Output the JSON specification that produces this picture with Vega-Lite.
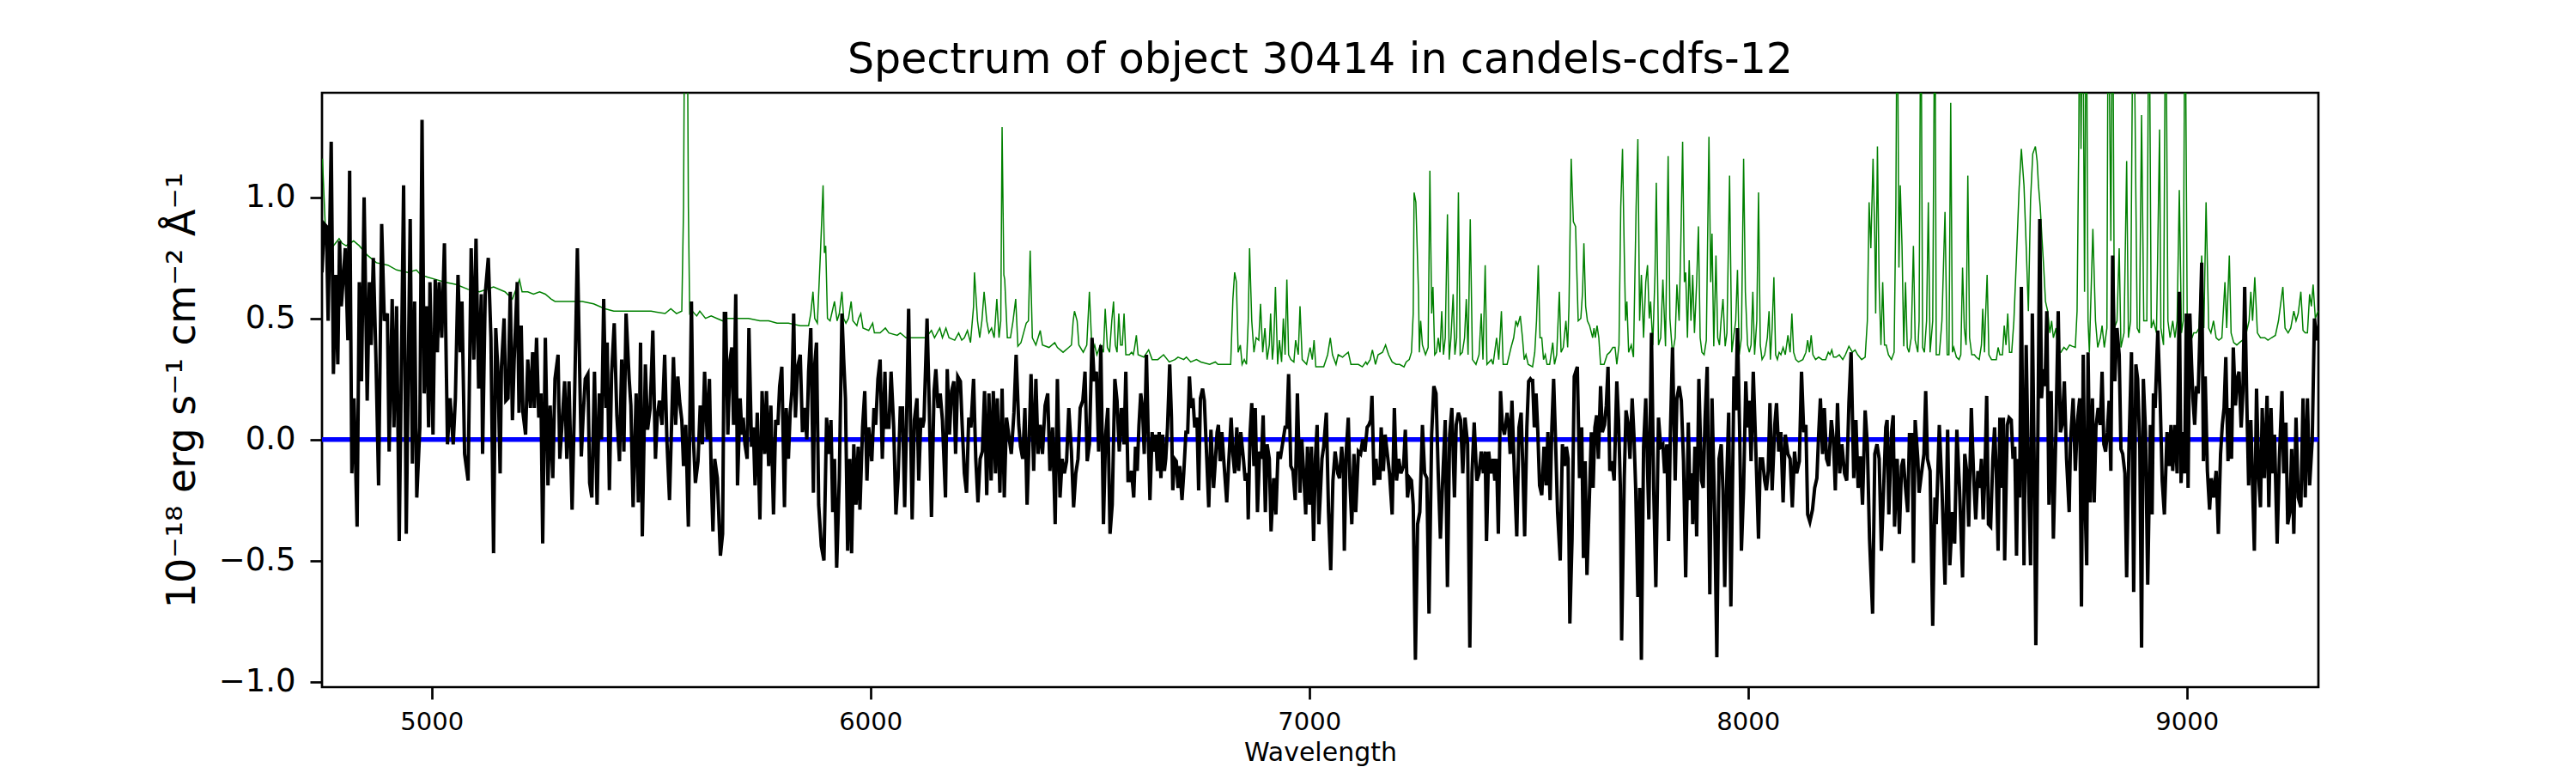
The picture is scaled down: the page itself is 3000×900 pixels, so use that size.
{
  "$schema": "https://vega.github.io/schema/vega-lite/v6.json",
  "autosize": {"type": "none"},
  "width": 2325,
  "height": 692,
  "padding": {"left": 375, "top": 108, "right": 300, "bottom": 100},
  "background": "white",
  "title": {
    "text": "Spectrum of object 30414 in candels-cdfs-12",
    "font": "DejaVu Sans",
    "fontSize": 49,
    "fontWeight": "normal",
    "color": "black",
    "anchor": "middle",
    "offset": 13
  },
  "datasets": {
    "zero": [{"v": 0}],
    "err": [
      {"w":4751,"v":1.16},{"w":4757,"v":0.90},{"w":4760,"v":0.82},{"w":4776,"v":0.80},{"w":4789,"v":0.83},{"w":4796,"v":0.81},{"w":4805,"v":0.80},{"w":4822,"v":0.82},{"w":4835,"v":0.80},{"w":4854,"v":0.76},{"w":4874,"v":0.73},{"w":4900,"v":0.72},{"w":4920,"v":0.70},{"w":4946,"v":0.69},{"w":4965,"v":0.70},{"w":4975,"v":0.68},{"w":4991,"v":0.67},{"w":5011,"v":0.66},{"w":5030,"v":0.65},{"w":5056,"v":0.64},{"w":5083,"v":0.62},{"w":5109,"v":0.61},{"w":5141,"v":0.63},{"w":5167,"v":0.61},{"w":5184,"v":0.58},{"w":5200,"v":0.66},{"w":5206,"v":0.61},{"w":5219,"v":0.61},{"w":5232,"v":0.60},{"w":5246,"v":0.61},{"w":5259,"v":0.60},{"w":5272,"v":0.58},{"w":5281,"v":0.57},{"w":5298,"v":0.57},{"w":5324,"v":0.57},{"w":5343,"v":0.57},{"w":5369,"v":0.56},{"w":5395,"v":0.54},{"w":5415,"v":0.53},{"w":5441,"v":0.53},{"w":5467,"v":0.53},{"w":5500,"v":0.53},{"w":5532,"v":0.52},{"w":5545,"v":0.54},{"w":5558,"v":0.52},{"w":5570,"v":0.53},{"w":5574,"v":0.96},{"w":5577,"v":2.0},{"w":5582,"v":2.0},{"w":5585,"v":0.96},{"w":5588,"v":0.52},{"w":5594,"v":0.53},{"w":5604,"v":0.51},{"w":5611,"v":0.53},{"w":5624,"v":0.50},{"w":5637,"v":0.51},{"w":5650,"v":0.50},{"w":5663,"v":0.49},
      {"w":5670,"v":0.50},{"w":5696,"v":0.50},{"w":5722,"v":0.50},{"w":5748,"v":0.49},{"w":5768,"v":0.49},{"w":5787,"v":0.48},{"w":5813,"v":0.48},{"w":5840,"v":0.47},{"w":5859,"v":0.47},{"w":5864,"v":0.52},{"w":5869,"v":0.61},{"w":5873,"v":0.50},{"w":5879,"v":0.48},{"w":5886,"v":0.77},{"w":5892,"v":1.05},{"w":5895,"v":0.77},{"w":5898,"v":0.80},{"w":5902,"v":0.50},{"w":5908,"v":0.49},{"w":5918,"v":0.57},{"w":5924,"v":0.49},{"w":5929,"v":0.52},{"w":5935,"v":0.61},{"w":5939,"v":0.50},{"w":5944,"v":0.48},{"w":5950,"v":0.50},{"w":5956,"v":0.57},{"w":5960,"v":0.49},{"w":5969,"v":0.47},{"w":5973,"v":0.50},{"w":5978,"v":0.52},{"w":5983,"v":0.46},{"w":5996,"v":0.45},{"w":6005,"v":0.48},{"w":6009,"v":0.44},{"w":6022,"v":0.44},{"w":6034,"v":0.46},{"w":6042,"v":0.44},{"w":6061,"v":0.43},{"w":6068,"v":0.44},{"w":6081,"v":0.42},{"w":6100,"v":0.42},{"w":6120,"v":0.42},{"w":6126,"v":0.42},{"w":6139,"v":0.45},{"w":6146,"v":0.42},{"w":6158,"v":0.46},{"w":6164,"v":0.42},{"w":6172,"v":0.46},{"w":6179,"v":0.42},{"w":6192,"v":0.41},{"w":6201,"v":0.44},{"w":6208,"v":0.41},{"w":6214,"v":0.42},{"w":6221,"v":0.45},{"w":6228,"v":0.40},{"w":6235,"v":0.55},{"w":6237,"v":0.69},{"w":6244,"v":0.49},{"w":6249,"v":0.42},{"w":6254,"v":0.49},{"w":6259,"v":0.61},{"w":6265,"v":0.49},{"w":6270,"v":0.44},{"w":6276,"v":0.46},{"w":6282,"v":0.42},{"w":6288,"v":0.58},{"w":6293,"v":0.42},{"w":6297,"v":0.49},{"w":6300,"v":1.29},{"w":6304,"v":0.68},{"w":6306,"v":0.66},{"w":6312,"v":0.42},{"w":6319,"v":0.42},{"w":6325,"v":0.49},{"w":6331,"v":0.58},{"w":6336,"v":0.385},{"w":6343,"v":0.40},{"w":6349,"v":0.44},{"w":6355,"v":0.48},{"w":6360,"v":0.49},{"w":6364,"v":0.78},{"w":6369,"v":0.42},{"w":6377,"v":0.39},{"w":6387,"v":0.45},{"w":6392,"v":0.39},{"w":6407,"v":0.38},{"w":6420,"v":0.40},{"w":6426,"v":0.38},{"w":6439,"v":0.36},{"w":6452,"v":0.38},{"w":6458,"v":0.39},{"w":6462,"v":0.49},{"w":6465,"v":0.53},{"w":6471,"v":0.49},{"w":6475,"v":0.39},{"w":6485,"v":0.36},{"w":6493,"v":0.39},{"w":6499,"v":0.61},{"w":6505,"v":0.36},{"w":6511,"v":0.39},{"w":6516,"v":0.35},{"w":6524,"v":0.39},{"w":6531,"v":0.36},{"w":6535,"v":0.54},{"w":6540,"v":0.38},{"w":6545,"v":0.36},{"w":6550,"v":0.49},{"w":6554,"v":0.57},{"w":6558,"v":0.39},{"w":6562,"v":0.36},{"w":6566,"v":0.52},{"w":6570,"v":0.39},{"w":6574,"v":0.39},{"w":6578,"v":0.52},{"w":6582,"v":0.35},{"w":6588,"v":0.35},
      {"w":6590,"v":0.35},{"w":6595,"v":0.36},{"w":6599,"v":0.35},{"w":6602,"v":0.38},{"w":6606,"v":0.43},{"w":6610,"v":0.35},{"w":6623,"v":0.34},{"w":6634,"v":0.37},{"w":6642,"v":0.33},{"w":6655,"v":0.33},{"w":6668,"v":0.35},{"w":6681,"v":0.32},{"w":6694,"v":0.33},{"w":6701,"v":0.34},{"w":6714,"v":0.33},{"w":6720,"v":0.34},{"w":6730,"v":0.32},{"w":6743,"v":0.33},{"w":6753,"v":0.32},{"w":6773,"v":0.31},{"w":6786,"v":0.32},{"w":6792,"v":0.31},{"w":6821,"v":0.31},{"w":6826,"v":0.58},{"w":6830,"v":0.69},{"w":6834,"v":0.65},{"w":6838,"v":0.36},{"w":6843,"v":0.39},{"w":6847,"v":0.31},{"w":6852,"v":0.33},{"w":6857,"v":0.31},{"w":6861,"v":0.49},{"w":6864,"v":0.79},{"w":6869,"v":0.49},{"w":6874,"v":0.36},{"w":6879,"v":0.42},{"w":6885,"v":0.41},{"w":6889,"v":0.56},{"w":6894,"v":0.36},{"w":6899,"v":0.46},{"w":6904,"v":0.33},{"w":6909,"v":0.39},{"w":6912,"v":0.52},{"w":6916,"v":0.33},{"w":6919,"v":0.39},{"w":6923,"v":0.63},{"w":6928,"v":0.31},{"w":6932,"v":0.41},{"w":6937,"v":0.32},{"w":6941,"v":0.50},{"w":6945,"v":0.35},{"w":6949,"v":0.66},{"w":6953,"v":0.35},{"w":6958,"v":0.33},{"w":6965,"v":0.32},{"w":6969,"v":0.41},{"w":6975,"v":0.35},{"w":6979,"v":0.55},{"w":6984,"v":0.33},{"w":6994,"v":0.31},{"w":7002,"v":0.38},{"w":7007,"v":0.33},{"w":7011,"v":0.41},{"w":7015,"v":0.30},{"w":7033,"v":0.30},{"w":7042,"v":0.35},{"w":7048,"v":0.42},{"w":7053,"v":0.35},{"w":7061,"v":0.31},{"w":7066,"v":0.35},{"w":7076,"v":0.34},{"w":7082,"v":0.35},{"w":7089,"v":0.36},{"w":7095,"v":0.31},{"w":7112,"v":0.31},{"w":7121,"v":0.30},{"w":7129,"v":0.32},{"w":7132,"v":0.31},{"w":7139,"v":0.33},{"w":7144,"v":0.37},{"w":7151,"v":0.31},{"w":7157,"v":0.35},{"w":7167,"v":0.36},{"w":7174,"v":0.39},{"w":7181,"v":0.35},{"w":7189,"v":0.32},{"w":7198,"v":0.31},{"w":7206,"v":0.31},{"w":7216,"v":0.30},{"w":7221,"v":0.32},{"w":7228,"v":0.33},{"w":7233,"v":0.36},{"w":7237,"v":0.52},{"w":7239,"v":1.02},{"w":7243,"v":0.98},{"w":7249,"v":0.61},{"w":7251,"v":0.36},{"w":7254,"v":0.49},{"w":7258,"v":0.39},{"w":7265,"v":0.35},{"w":7271,"v":0.38},{"w":7275,"v":1.11},{"w":7279,"v":0.52},{"w":7282,"v":0.63},{"w":7286,"v":0.35},{"w":7290,"v":0.36},{"w":7294,"v":0.42},{"w":7298,"v":0.36},{"w":7302,"v":0.53},{"w":7306,"v":0.35},{"w":7310,"v":0.42},{"w":7315,"v":0.93},{"w":7319,"v":0.33},{"w":7323,"v":0.42},{"w":7328,"v":0.60},{"w":7332,"v":0.35},{"w":7336,"v":0.42},{"w":7340,"v":1.02},{"w":7344,"v":0.35},{"w":7349,"v":0.36},{"w":7354,"v":0.42},{"w":7358,"v":0.58},{"w":7362,"v":0.35},{"w":7367,"v":0.91},{"w":7372,"v":0.33},{"w":7380,"v":0.31},{"w":7387,"v":0.35},{"w":7392,"v":0.52},{"w":7396,"v":0.33},{"w":7401,"v":0.72},{"w":7405,"v":0.31},{"w":7415,"v":0.33},{"w":7419,"v":0.31},{"w":7427,"v":0.42},{"w":7432,"v":0.33},{"w":7438,"v":0.53},{"w":7442,"v":0.31},{"w":7451,"v":0.31},{"w":7460,"v":0.38},{"w":7466,"v":0.42},{"w":7471,"v":0.49},{"w":7475,"v":0.47},{"w":7481,"v":0.51},{"w":7486,"v":0.42},{"w":7490,"v":0.33},{"w":7494,"v":0.35},{"w":7499,"v":0.31},{"w":7509,"v":0.30},
      {"w":7514,"v":0.36},{"w":7518,"v":0.49},{"w":7522,"v":0.72},{"w":7526,"v":0.42},{"w":7530,"v":0.42},{"w":7534,"v":0.33},{"w":7538,"v":0.35},{"w":7542,"v":0.31},{"w":7548,"v":0.31},{"w":7555,"v":0.40},{"w":7559,"v":0.31},{"w":7564,"v":0.35},{"w":7570,"v":0.61},{"w":7574,"v":0.36},{"w":7579,"v":0.38},{"w":7585,"v":0.49},{"w":7589,"v":0.38},{"w":7592,"v":0.55},{"w":7597,"v":1.16},{"w":7602,"v":0.90},{"w":7607,"v":0.88},{"w":7613,"v":0.49},{"w":7619,"v":0.50},{"w":7623,"v":0.61},{"w":7626,"v":0.81},{"w":7630,"v":0.55},{"w":7634,"v":0.49},{"w":7639,"v":0.47},{"w":7646,"v":0.42},{"w":7649,"v":0.46},{"w":7652,"v":0.42},{"w":7656,"v":0.47},{"w":7660,"v":0.42},{"w":7664,"v":0.31},{"w":7672,"v":0.31},{"w":7679,"v":0.35},{"w":7685,"v":0.36},{"w":7692,"v":0.38},{"w":7697,"v":0.38},{"w":7701,"v":0.31},{"w":7706,"v":0.39},{"w":7710,"v":0.96},{"w":7714,"v":1.20},{"w":7718,"v":0.77},{"w":7721,"v":0.49},{"w":7724,"v":0.57},{"w":7728,"v":0.36},{"w":7734,"v":0.39},{"w":7739,"v":0.34},{"w":7745,"v":0.96},{"w":7749,"v":1.24},{"w":7753,"v":0.49},{"w":7757,"v":0.68},{"w":7762,"v":0.42},{"w":7767,"v":0.65},{"w":7771,"v":0.72},{"w":7775,"v":0.50},{"w":7778,"v":0.57},{"w":7783,"v":0.39},{"w":7788,"v":0.68},{"w":7791,"v":1.06},{"w":7796,"v":0.39},{"w":7801,"v":0.42},{"w":7806,"v":0.66},{"w":7812,"v":0.385},{"w":7818,"v":1.17},{"w":7822,"v":0.50},{"w":7828,"v":0.35},{"w":7834,"v":0.42},{"w":7838,"v":0.64},{"w":7843,"v":0.49},{"w":7847,"v":0.82},{"w":7851,"v":1.23},{"w":7855,"v":0.65},{"w":7858,"v":0.69},{"w":7862,"v":0.42},{"w":7866,"v":0.74},{"w":7870,"v":0.49},{"w":7874,"v":0.68},{"w":7878,"v":0.44},{"w":7883,"v":0.65},{"w":7887,"v":0.88},{"w":7891,"v":0.42},{"w":7895,"v":0.36},{"w":7900,"v":0.35},{"w":7905,"v":0.41},{"w":7911,"v":1.25},{"w":7915,"v":0.65},{"w":7918,"v":0.85},{"w":7922,"v":0.385},{"w":7927,"v":0.76},{"w":7931,"v":0.42},{"w":7935,"v":0.39},{"w":7939,"v":0.50},{"w":7943,"v":0.58},{"w":7948,"v":0.385},{"w":7952,"v":0.44},{"w":7958,"v":1.09},{"w":7963,"v":0.36},{"w":7967,"v":0.42},{"w":7972,"v":0.49},{"w":7976,"v":0.70},{"w":7980,"v":0.35},{"w":7985,"v":0.42},{"w":7990,"v":1.16},{"w":7994,"v":0.61},{"w":7999,"v":0.39},{"w":8003,"v":0.36},{"w":8007,"v":0.39},{"w":8011,"v":0.61},{"w":8015,"v":0.35},{"w":8020,"v":0.49},{"w":8024,"v":1.02},{"w":8028,"v":0.39},{"w":8032,"v":0.33},{"w":8038,"v":0.35},{"w":8044,"v":0.42},{"w":8048,"v":0.53},{"w":8051,"v":0.33},{"w":8055,"v":0.46},{"w":8059,"v":0.67},{"w":8063,"v":0.35},{"w":8067,"v":0.33},{"w":8071,"v":0.36},{"w":8075,"v":0.35},{"w":8080,"v":0.38},{"w":8085,"v":0.35},{"w":8091,"v":0.43},{"w":8096,"v":0.36},{"w":8100,"v":0.52},{"w":8104,"v":0.36},{"w":8109,"v":0.33},{"w":8115,"v":0.32},{"w":8125,"v":0.33},{"w":8132,"v":0.36},{"w":8136,"v":0.41},{"w":8140,"v":0.36},{"w":8144,"v":0.43},{"w":8148,"v":0.35},{"w":8154,"v":0.33},{"w":8161,"v":0.34},{"w":8169,"v":0.33},{"w":8177,"v":0.33},{"w":8183,"v":0.36},{"w":8187,"v":0.35},{"w":8191,"v":0.37},{"w":8195,"v":0.34},{"w":8201,"v":0.34},{"w":8208,"v":0.35},{"w":8216,"v":0.33},{"w":8222,"v":0.35},{"w":8230,"v":0.385},{"w":8238,"v":0.36},{"w":8244,"v":0.37},{"w":8250,"v":0.35},{"w":8259,"v":0.33},{"w":8267,"v":0.34},{"w":8272,"v":0.49},{"w":8276,"v":0.98},{"w":8280,"v":0.79},{"w":8285,"v":1.16},{"w":8289,"v":0.83},{"w":8291,"v":0.52},{"w":8295,"v":1.21},{"w":8299,"v":0.63},{"w":8303,"v":0.39},{"w":8307,"v":0.65},{"w":8311,"v":0.39},{"w":8315,"v":0.39},{"w":8320,"v":0.35},{"w":8327,"v":0.33},{"w":8333,"v":0.36},{"w":8337,"v":0.96},{"w":8340,"v":2.0},{"w":8344,"v":0.71},{"w":8347,"v":1.05},{"w":8351,"v":0.80},{"w":8355,"v":0.385},{"w":8359,"v":0.65},{"w":8363,"v":0.38},{"w":8367,"v":0.36},{"w":8372,"v":0.42},{"w":8377,"v":0.80},{"w":8381,"v":0.41},{"w":8387,"v":0.36},{"w":8390,"v":0.49},{"w":8394,"v":2.0},{"w":8398,"v":0.38},{"w":8402,"v":0.36},{"w":8407,"v":0.49},{"w":8411,"v":0.98},{"w":8415,"v":0.36},{"w":8421,"v":0.49},{"w":8426,"v":2.0},
      {"w":8429,"v":0.35},{"w":8436,"v":0.35},{"w":8442,"v":0.49},{"w":8449,"v":0.94},{"w":8454,"v":0.35},{"w":8458,"v":0.35},{"w":8462,"v":1.39},{"w":8466,"v":0.36},{"w":8469,"v":0.38},{"w":8475,"v":0.34},{"w":8481,"v":0.33},{"w":8485,"v":0.35},{"w":8489,"v":0.71},{"w":8493,"v":0.46},{"w":8497,"v":0.39},{"w":8501,"v":1.09},{"w":8505,"v":0.42},{"w":8510,"v":0.35},{"w":8516,"v":0.35},{"w":8520,"v":0.34},{"w":8527,"v":0.33},{"w":8532,"v":0.39},{"w":8535,"v":0.54},{"w":8539,"v":0.36},{"w":8541,"v":0.49},{"w":8545,"v":0.68},{"w":8549,"v":0.35},{"w":8555,"v":0.33},{"w":8566,"v":0.33},{"w":8570,"v":0.38},{"w":8574,"v":0.35},{"w":8580,"v":0.35},{"w":8584,"v":0.47},{"w":8588,"v":0.39},{"w":8592,"v":0.52},{"w":8596,"v":0.36},{"w":8601,"v":0.36},{"w":8606,"v":0.49},{"w":8612,"v":0.76},{"w":8618,"v":1.04},{"w":8623,"v":1.20},{"w":8629,"v":1.05},{"w":8634,"v":0.80},{"w":8639,"v":0.53},{"w":8644,"v":0.99},{"w":8649,"v":1.18},{"w":8655,"v":1.21},{"w":8659,"v":1.15},{"w":8662,"v":1.05},{"w":8666,"v":0.96},{"w":8670,"v":0.83},{"w":8674,"v":0.71},{"w":8678,"v":0.57},{"w":8683,"v":0.53},{"w":8688,"v":0.44},{"w":8692,"v":0.49},{"w":8696,"v":0.42},{"w":8702,"v":0.46},{"w":8707,"v":0.36},{"w":8713,"v":0.36},{"w":8720,"v":0.38},{"w":8726,"v":0.37},{"w":8733,"v":0.39},{"w":8739,"v":0.385},{"w":8746,"v":0.38},{"w":8750,"v":0.53},{"w":8754,"v":1.27},{"w":8756,"v":2.0},{"w":8759,"v":1.20},{"w":8763,"v":2.0},{"w":8767,"v":0.61},{"w":8771,"v":2.0},{"w":8775,"v":0.49},{"w":8778,"v":0.36},{"w":8786,"v":0.87},{"w":8792,"v":0.49},{"w":8797,"v":0.38},{"w":8803,"v":0.42},{"w":8807,"v":0.47},{"w":8812,"v":0.38},{"w":8818,"v":0.46},{"w":8821,"v":2.0},{"w":8827,"v":0.82},{"w":8831,"v":2.0},{"w":8835,"v":0.46},{"w":8841,"v":0.49},{"w":8846,"v":0.79},{"w":8850,"v":0.38},{"w":8857,"v":0.44},{"w":8863,"v":1.15},{"w":8867,"v":0.42},{"w":8872,"v":0.49},{"w":8878,"v":2.0},{"w":8882,"v":1.37},{"w":8887,"v":0.46},{"w":8892,"v":0.44},{"w":8897,"v":1.34},{"w":8902,"v":0.49},{"w":8909,"v":0.49},{"w":8914,"v":2.0},{"w":8919,"v":0.46},{"w":8924,"v":0.49},{"w":8931,"v":0.44},{"w":8938,"v":1.28},{"w":8941,"v":0.46},{"w":8947,"v":0.39},{"w":8952,"v":2.0},{"w":8957,"v":0.49},{"w":8962,"v":0.42},{"w":8968,"v":0.49},{"w":8973,"v":0.42},{"w":8978,"v":0.49},{"w":8983,"v":1.03},{"w":8988,"v":0.44},{"w":8992,"v":0.49},{"w":8996,"v":2.0},{"w":9001,"v":0.49},{"w":9007,"v":0.42},{"w":9012,"v":0.42},{"w":9016,"v":0.44},{"w":9022,"v":0.44},{"w":9028,"v":0.46},{"w":9034,"v":0.76},{"w":9039,"v":0.46},{"w":9044,"v":0.98},{"w":9050,"v":0.46},{"w":9055,"v":0.44},{"w":9061,"v":0.49},{"w":9067,"v":0.42},{"w":9073,"v":0.41},{"w":9080,"v":0.42},{"w":9087,"v":0.65},{"w":9091,"v":0.46},{"w":9097,"v":0.76},{"w":9101,"v":0.44},{"w":9107,"v":0.40},{"w":9114,"v":0.39},{"w":9120,"v":0.40},{"w":9127,"v":0.41},{"w":9133,"v":0.42},{"w":9142,"v":0.49},{"w":9146,"v":0.61},{"w":9150,"v":0.49},{"w":9155,"v":0.67},{"w":9161,"v":0.44},{"w":9168,"v":0.42},{"w":9178,"v":0.42},{"w":9185,"v":0.41},{"w":9193,"v":0.42},{"w":9202,"v":0.43},{"w":9209,"v":0.49},{"w":9219,"v":0.63},{"w":9224,"v":0.46},{"w":9231,"v":0.44},{"w":9237,"v":0.46},{"w":9244,"v":0.53},{"w":9249,"v":0.49},{"w":9254,"v":0.52},{"w":9260,"v":0.61},{"w":9265,"v":0.45},{"w":9270,"v":0.44},{"w":9275,"v":0.44},{"w":9280,"v":0.60},{"w":9284,"v":0.55},{"w":9288,"v":0.64},{"w":9293,"v":0.50},{"w":9297,"v":0.52},{"w":9306,"v":0.55}
    ],
    "flux": [
      {"w":4750,"v":0.69},{"w":4755,"v":0.89},{"w":4760,"v":0.88},{"w":4764,"v":0.49},{"w":4771,"v":1.23},{"w":4776,"v":0.27},{"w":4781,"v":0.68},{"w":4786,"v":0.31},{"w":4790,"v":0.82},{"w":4794,"v":0.55},{"w":4799,"v":0.68},{"w":4803,"v":0.79},{"w":4809,"v":0.41},{"w":4813,"v":1.11},{"w":4818,"v":-0.14},{"w":4823,"v":0.17},{"w":4830,"v":-0.36},{"w":4835,"v":0.65},{"w":4840,"v":0.24},{"w":4846,"v":1.00},{"w":4853,"v":0.16},{"w":4858,"v":0.65},{"w":4862,"v":0.39},{"w":4867,"v":0.75},{"w":4873,"v":0.33},{"w":4879,"v":-0.19},{"w":4886,"v":0.89},{"w":4892,"v":0.49},{"w":4899,"v":0.52},{"w":4903,"v":-0.05},{"w":4910,"v":0.58},{"w":4914,"v":0.05},{"w":4920,"v":0.55},{"w":4926,"v":-0.42},{"w":4936,"v":1.05},{"w":4942,"v":-0.39},{"w":4951,"v":0.91},{"w":4956,"v":-0.10},{"w":4961,"v":0.57},{"w":4966,"v":-0.24},{"w":4973,"v":0.05},{"w":4978,"v":1.32},{"w":4983,"v":0.19},{"w":4988,"v":0.55},{"w":4993,"v":0.05},{"w":4996,"v":0.65},{"w":5003,"v":0.02},{"w":5008,"v":0.66},{"w":5013,"v":0.36},{"w":5017,"v":0.65},{"w":5023,"v":0.42},{"w":5029,"v":0.81},{"w":5036,"v":-0.02},{"w":5042,"v":0.17},{"w":5049,"v":-0.02},{"w":5054,"v":0.17},{"w":5060,"v":0.68},{"w":5065,"v":0.36},{"w":5069,"v":0.57},{"w":5075,"v":-0.06},{"w":5083,"v":-0.17},{"w":5090,"v":0.79},{"w":5096,"v":0.33},{"w":5101,"v":0.83},{"w":5107,"v":0.21},{"w":5113,"v":0.60},{"w":5116,"v":-0.06},{"w":5122,"v":0.60},{"w":5129,"v":0.75},{"w":5135,"v":0.42},{"w":5141,"v":-0.47},{"w":5146,"v":0.46},{"w":5151,"v":0.28},{"w":5156,"v":-0.14},{"w":5159,"v":0.30},{"w":5165,"v":0.50},{"w":5169,"v":0.16},{"w":5174,"v":0.17},{"w":5179,"v":0.61},{"w":5184,"v":0.08},{"w":5188,"v":0.33},{"w":5195,"v":0.65},{"w":5199,"v":0.11},{"w":5204,"v":0.47},{"w":5208,"v":0.11},{"w":5214,"v":0.02},{"w":5219,"v":0.33},{"w":5225,"v":0.13},{"w":5230,"v":0.36},{"w":5234,"v":0.13},{"w":5239,"v":0.42},{"w":5244,"v":0.09},{"w":5249,"v":0.19},{"w":5253,"v":-0.43},{"w":5259,"v":0.42},{"w":5265,"v":-0.19},{"w":5270,"v":0.14},{"w":5276,"v":-0.16},{"w":5281,"v":0.25},{"w":5288,"v":0.35},{"w":5292,"v":-0.08},{"w":5298,"v":0.09},{"w":5303,"v":0.24},{"w":5308,"v":-0.08},{"w":5313,"v":0.24},{"w":5320,"v":-0.29},{"w":5325,"v":0.11},{"w":5332,"v":0.79},{"w":5341,"v":-0.07},{"w":5345,"v":0.09},{"w":5350,"v":0.25},{"w":5356,"v":0.27},{"w":5360,"v":-0.18},{"w":5365,"v":-0.24},{"w":5371,"v":0.28},{"w":5377,"v":-0.27},{"w":5382,"v":0.19},{"w":5387,"v":0.00},{"w":5392,"v":0.58},{"w":5397,"v":0.13},{"w":5400,"v":0.40},{"w":5405,"v":-0.21},{"w":5410,"v":0.27},{"w":5416,"v":0.48},{"w":5422,"v":0.10},{"w":5428,"v":-0.09},{"w":5433,"v":0.33},{"w":5438,"v":-0.05},{"w":5443,"v":0.52},{"w":5450,"v":0.25},{"w":5454,"v":0.14},{"w":5459,"v":-0.28},{"w":5466,"v":0.19},{"w":5471,"v":-0.26},{"w":5476,"v":0.40},{"w":5480,"v":-0.40},{"w":5487,"v":0.31},{"w":5492,"v":0.04},{"w":5498,"v":0.13},{"w":5504,"v":0.45},{"w":5510,"v":-0.08},{"w":5514,"v":0.09},{"w":5519,"v":0.16},{"w":5525,"v":0.06},{"w":5531,"v":0.35},{"w":5536,"v":0.00},{"w":5542,"v":-0.25},{"w":5551,"v":0.34},{"w":5556,"v":0.06},{"w":5561,"v":0.26},{"w":5565,"v":0.16},{"w":5570,"v":0.08},{"w":5574,"v":-0.11},{"w":5579,"v":0.06},{"w":5585,"v":-0.36},{"w":5592,"v":0.57},{"w":5596,"v":0.02},{"w":5601,"v":-0.18},{"w":5607,"v":-0.09},{"w":5612,"v":0.14},{"w":5617,"v":-0.02},{"w":5622,"v":0.28},{"w":5628,"v":0.00},{"w":5633,"v":0.25},{"w":5637,"v":-0.14},{"w":5641,"v":-0.38},{"w":5645,"v":-0.08},{"w":5651,"v":-0.16},{"w":5658,"v":-0.48},{"w":5663,"v":-0.39},{"w":5667,"v":0.52},
      {"w":5670,"v":0.52},{"w":5675,"v":0.02},{"w":5680,"v":0.33},{"w":5684,"v":0.38},{"w":5688,"v":0.06},{"w":5693,"v":0.60},{"w":5697,"v":-0.19},{"w":5703,"v":0.17},{"w":5707,"v":0.02},{"w":5710,"v":0.09},{"w":5714,"v":-0.02},{"w":5719,"v":-0.08},{"w":5723,"v":0.46},{"w":5729,"v":-0.03},{"w":5733,"v":0.05},{"w":5737,"v":-0.19},{"w":5742,"v":0.11},{"w":5748,"v":-0.33},{"w":5753,"v":0.20},{"w":5759,"v":-0.06},{"w":5763,"v":0.20},{"w":5768,"v":-0.11},{"w":5773,"v":0.14},{"w":5779,"v":-0.31},{"w":5784,"v":0.08},{"w":5789,"v":0.06},{"w":5793,"v":0.22},{"w":5798,"v":0.30},{"w":5804,"v":-0.28},{"w":5808,"v":0.13},{"w":5813,"v":-0.08},{"w":5817,"v":0.11},{"w":5821,"v":0.20},{"w":5825,"v":0.52},{"w":5829,"v":0.09},{"w":5834,"v":0.30},{"w":5840,"v":0.35},{"w":5845,"v":0.03},{"w":5850,"v":0.13},{"w":5855,"v":0.00},{"w":5859,"v":0.28},{"w":5864,"v":0.46},{"w":5870,"v":-0.22},{"w":5873,"v":0.31},{"w":5877,"v":0.40},{"w":5882,"v":-0.27},{"w":5888,"v":-0.44},{"w":5894,"v":-0.50},{"w":5900,"v":0.09},{"w":5905,"v":-0.06},{"w":5910,"v":0.08},{"w":5914,"v":-0.30},{"w":5918,"v":-0.08},{"w":5923,"v":-0.53},{"w":5929,"v":-0.16},{"w":5935,"v":0.52},{"w":5939,"v":0.33},{"w":5943,"v":0.17},{"w":5948,"v":-0.46},{"w":5953,"v":-0.08},{"w":5957,"v":-0.47},{"w":5962,"v":-0.02},{"w":5967,"v":-0.27},{"w":5972,"v":-0.03},{"w":5976,"v":-0.29},{"w":5982,"v":0.05},{"w":5987,"v":0.20},{"w":5992,"v":-0.17},{"w":5996,"v":0.05},{"w":6003,"v":-0.09},{"w":6008,"v":0.13},{"w":6012,"v":0.06},{"w":6017,"v":0.25},{"w":6022,"v":0.33},{"w":6027,"v":-0.08},{"w":6033,"v":0.28},{"w":6036,"v":0.05},{"w":6042,"v":0.05},{"w":6047,"v":0.28},{"w":6053,"v":0.05},{"w":6058,"v":-0.31},{"w":6063,"v":-0.16},{"w":6068,"v":0.13},{"w":6073,"v":0.13},{"w":6078,"v":-0.28},{"w":6082,"v":0.05},{"w":6087,"v":0.54},{"w":6095,"v":-0.33},{"w":6100,"v":0.08},{"w":6106,"v":0.17},{"w":6110,"v":-0.17},{"w":6115,"v":0.09},{"w":6119,"v":0.05},{"w":6122,"v":0.08},{"w":6129,"v":0.50},{"w":6134,"v":0.14},{"w":6139,"v":-0.32},{"w":6145,"v":0.20},{"w":6149,"v":0.29},{"w":6154,"v":0.13},{"w":6159,"v":0.19},{"w":6164,"v":0.08},{"w":6171,"v":-0.24},{"w":6175,"v":0.29},{"w":6180,"v":0.02},{"w":6185,"v":0.20},{"w":6190,"v":0.24},{"w":6194,"v":-0.06},{"w":6199,"v":0.26},{"w":6205,"v":0.24},{"w":6209,"v":0.06},{"w":6214,"v":-0.14},{"w":6219,"v":-0.22},{"w":6224,"v":0.09},{"w":6229,"v":0.05},{"w":6235,"v":0.25},{"w":6240,"v":-0.08},{"w":6245,"v":-0.26},{"w":6250,"v":-0.08},{"w":6255,"v":-0.05},{"w":6260,"v":0.20},{"w":6265,"v":-0.23},{"w":6270,"v":0.19},{"w":6275,"v":-0.17},{"w":6280,"v":0.20},{"w":6285,"v":-0.14},{"w":6289,"v":0.17},{"w":6295,"v":-0.22},{"w":6300,"v":0.21},{"w":6305,"v":-0.24},{"w":6310,"v":0.09},{"w":6315,"v":0.02},{"w":6321,"v":-0.06},{"w":6327,"v":0.11},{"w":6332,"v":0.35},{"w":6338,"v":0.06},{"w":6342,"v":-0.03},{"w":6347,"v":-0.08},{"w":6352,"v":0.13},{"w":6357,"v":-0.27},{"w":6362,"v":0.02},{"w":6366,"v":0.27},{"w":6372,"v":-0.13},{"w":6377,"v":0.25},{"w":6382,"v":-0.06},{"w":6387,"v":0.06},{"w":6392,"v":-0.06},{"w":6398,"v":0.14},{"w":6404,"v":0.19},{"w":6409,"v":-0.13},{"w":6415,"v":0.05},{"w":6421,"v":-0.35},{"w":6426,"v":0.25},{"w":6432,"v":-0.24},{"w":6437,"v":-0.08},{"w":6442,"v":-0.14},{"w":6447,"v":-0.09},{"w":6452,"v":0.13},{"w":6458,"v":-0.05},{"w":6463,"v":-0.28},{"w":6468,"v":-0.14},{"w":6473,"v":-0.08},{"w":6478,"v":0.13},{"w":6484,"v":0.16},{"w":6489,"v":0.28},{"w":6494,"v":-0.09},{"w":6499,"v":-0.02},{"w":6505,"v":0.42},{"w":6510,"v":0.24},{"w":6515,"v":0.28},{"w":6520,"v":-0.05},{"w":6525,"v":0.39},{"w":6531,"v":-0.35},{"w":6536,"v":0.02},{"w":6541,"v":0.13},{"w":6546,"v":-0.39},{"w":6551,"v":-0.27},{"w":6557,"v":0.25},{"w":6562,"v":0.16},{"w":6567,"v":-0.05},{"w":6572,"v":0.13},{"w":6578,"v":-0.02},{"w":6582,"v":0.28},{"w":6587,"v":-0.17},
      {"w":6590,"v":-0.17},{"w":6595,"v":-0.13},{"w":6600,"v":-0.24},{"w":6604,"v":-0.03},{"w":6608,"v":-0.13},{"w":6612,"v":0.06},{"w":6616,"v":0.19},{"w":6620,"v":0.13},{"w":6624,"v":-0.06},{"w":6629,"v":0.35},{"w":6633,"v":0.02},{"w":6637,"v":-0.25},{"w":6642,"v":0.03},{"w":6646,"v":-0.05},{"w":6650,"v":0.02},{"w":6654,"v":-0.13},{"w":6658,"v":0.03},{"w":6662,"v":-0.16},{"w":6666,"v":0.02},{"w":6670,"v":-0.13},{"w":6673,"v":-0.08},{"w":6677,"v":0.05},{"w":6682,"v":0.31},{"w":6686,"v":0.09},{"w":6689,"v":-0.21},{"w":6693,"v":-0.08},{"w":6697,"v":-0.09},{"w":6701,"v":-0.20},{"w":6705,"v":-0.11},{"w":6710,"v":-0.25},{"w":6714,"v":-0.14},{"w":6719,"v":0.03},{"w":6723,"v":0.03},{"w":6727,"v":0.26},{"w":6731,"v":0.13},{"w":6735,"v":0.17},{"w":6739,"v":0.05},{"w":6744,"v":0.09},{"w":6748,"v":-0.21},{"w":6752,"v":0.17},{"w":6757,"v":0.21},{"w":6761,"v":0.16},{"w":6766,"v":-0.06},{"w":6771,"v":-0.28},{"w":6776,"v":0.04},{"w":6782,"v":-0.20},{"w":6786,"v":-0.09},{"w":6790,"v":0.03},{"w":6793,"v":0.06},{"w":6797,"v":-0.09},{"w":6801,"v":0.03},{"w":6805,"v":-0.08},{"w":6812,"v":-0.26},{"w":6817,"v":-0.08},{"w":6822,"v":0.09},{"w":6826,"v":-0.06},{"w":6830,"v":-0.14},{"w":6835,"v":0.05},{"w":6839,"v":-0.13},{"w":6844,"v":0.03},{"w":6850,"v":-0.08},{"w":6854,"v":-0.17},{"w":6859,"v":-0.14},{"w":6861,"v":-0.33},{"w":6865,"v":0.02},{"w":6869,"v":0.15},{"w":6874,"v":-0.11},{"w":6877,"v":0.13},{"w":6882,"v":-0.30},{"w":6887,"v":-0.05},{"w":6891,"v":-0.08},{"w":6895,"v":0.10},{"w":6900,"v":-0.30},{"w":6904,"v":-0.02},{"w":6909,"v":-0.08},{"w":6913,"v":-0.38},{"w":6919,"v":-0.16},{"w":6924,"v":-0.31},{"w":6929,"v":-0.05},{"w":6934,"v":-0.08},{"w":6939,"v":-0.02},{"w":6945,"v":0.05},{"w":6949,"v":0.05},{"w":6953,"v":0.27},{"w":6958,"v":-0.11},{"w":6963,"v":-0.13},{"w":6968,"v":-0.25},{"w":6973,"v":0.19},{"w":6979,"v":-0.22},{"w":6983,"v":0.00},{"w":6988,"v":-0.16},{"w":6992,"v":-0.31},{"w":6996,"v":-0.03},{"w":7001,"v":-0.27},{"w":7005,"v":-0.03},{"w":7010,"v":-0.42},{"w":7014,"v":-0.08},{"w":7018,"v":0.06},{"w":7022,"v":-0.35},{"w":7026,"v":-0.20},{"w":7029,"v":-0.08},{"w":7033,"v":-0.03},{"w":7039,"v":0.11},{"w":7044,"v":-0.30},{"w":7049,"v":-0.54},{"w":7054,"v":-0.17},{"w":7059,"v":-0.05},{"w":7065,"v":-0.14},{"w":7069,"v":-0.16},{"w":7074,"v":-0.03},{"w":7078,"v":-0.14},{"w":7080,"v":-0.46},{"w":7084,"v":-0.06},{"w":7089,"v":0.09},{"w":7093,"v":-0.19},{"w":7097,"v":-0.35},{"w":7102,"v":-0.06},{"w":7106,"v":-0.30},{"w":7112,"v":-0.05},{"w":7117,"v":-0.06},{"w":7122,"v":0.00},{"w":7127,"v":-0.05},{"w":7132,"v":0.05},{"w":7136,"v":0.06},{"w":7140,"v":0.08},{"w":7143,"v":0.18},{"w":7148,"v":-0.19},{"w":7152,"v":-0.08},{"w":7156,"v":-0.16},{"w":7161,"v":-0.16},{"w":7164,"v":0.05},{"w":7169,"v":-0.13},{"w":7173,"v":0.02},{"w":7178,"v":-0.06},{"w":7183,"v":-0.14},{"w":7189,"v":-0.31},{"w":7194,"v":0.13},{"w":7199,"v":-0.17},{"w":7204,"v":-0.08},{"w":7209,"v":-0.14},{"w":7215,"v":-0.11},{"w":7219,"v":0.04},{"w":7224,"v":-0.24},{"w":7229,"v":-0.16},{"w":7233,"v":-0.17},{"w":7237,"v":-0.27},{"w":7242,"v":-0.91},{"w":7247,"v":-0.35},{"w":7252,"v":-0.30},{"w":7258,"v":0.06},{"w":7263,"v":-0.14},{"w":7268,"v":-0.16},{"w":7273,"v":-0.72},{"w":7279,"v":0.02},{"w":7284,"v":0.22},{"w":7289,"v":0.19},{"w":7294,"v":-0.14},{"w":7299,"v":-0.41},{"w":7305,"v":-0.13},{"w":7310,"v":0.08},{"w":7315,"v":-0.61},{"w":7320,"v":0.02},{"w":7325,"v":0.13},{"w":7331,"v":-0.24},{"w":7335,"v":0.06},{"w":7340,"v":0.11},{"w":7345,"v":0.08},{"w":7350,"v":-0.14},{"w":7355,"v":0.09},{"w":7361,"v":-0.02},{"w":7366,"v":-0.86},{"w":7371,"v":-0.14},{"w":7376,"v":0.07},{"w":7382,"v":-0.17},{"w":7387,"v":-0.14},{"w":7392,"v":-0.05},{"w":7397,"v":-0.14},{"w":7401,"v":-0.05},{"w":7404,"v":-0.42},{"w":7409,"v":-0.05},{"w":7414,"v":-0.14},{"w":7419,"v":-0.08},{"w":7423,"v":-0.17},{"w":7427,"v":-0.08},{"w":7431,"v":-0.39},{"w":7436,"v":0.20},{"w":7440,"v":0.06},{"w":7445,"v":0.02},{"w":7451,"v":0.11},{"w":7455,"v":0.05},{"w":7458,"v":-0.06},{"w":7462,"v":0.16},{"w":7468,"v":-0.16},{"w":7473,"v":-0.40},{"w":7478,"v":0.05},{"w":7483,"v":0.11},{"w":7487,"v":-0.13},{"w":7491,"v":-0.40},{"w":7496,"v":0.05},{"w":7500,"v":0.24},{"w":7504,"v":0.25},{"w":7508,"v":0.24},
      {"w":7509,"v":0.25},{"w":7513,"v":0.05},{"w":7517,"v":0.19},{"w":7521,"v":0.03},{"w":7525,"v":-0.19},{"w":7530,"v":-0.23},{"w":7535,"v":-0.03},{"w":7540,"v":-0.19},{"w":7544,"v":0.03},{"w":7549,"v":-0.25},{"w":7553,"v":0.05},{"w":7557,"v":0.25},{"w":7561,"v":0.02},{"w":7566,"v":-0.30},{"w":7572,"v":-0.50},{"w":7577,"v":-0.02},{"w":7582,"v":-0.11},{"w":7586,"v":-0.03},{"w":7590,"v":-0.08},{"w":7594,"v":-0.76},{"w":7599,"v":-0.41},{"w":7604,"v":0.26},{"w":7611,"v":0.30},{"w":7616,"v":-0.16},{"w":7621,"v":0.05},{"w":7625,"v":-0.49},{"w":7629,"v":-0.09},{"w":7633,"v":-0.56},{"w":7638,"v":-0.27},{"w":7643,"v":0.03},{"w":7647,"v":-0.20},{"w":7651,"v":0.05},{"w":7655,"v":0.10},{"w":7659,"v":-0.08},{"w":7664,"v":0.22},{"w":7668,"v":0.03},{"w":7673,"v":0.06},{"w":7677,"v":0.14},{"w":7681,"v":0.30},{"w":7685,"v":-0.13},{"w":7690,"v":-0.09},{"w":7695,"v":-0.17},{"w":7701,"v":0.24},{"w":7705,"v":0.08},{"w":7709,"v":-0.19},{"w":7712,"v":-0.83},{"w":7718,"v":-0.16},{"w":7722,"v":0.12},{"w":7727,"v":0.06},{"w":7731,"v":-0.08},{"w":7736,"v":0.17},{"w":7740,"v":0.02},{"w":7744,"v":-0.20},{"w":7749,"v":-0.65},{"w":7753,"v":-0.20},{"w":7757,"v":-0.91},{"w":7762,"v":-0.03},{"w":7767,"v":0.17},{"w":7774,"v":-0.33},{"w":7780,"v":0.44},{"w":7785,"v":-0.20},{"w":7790,"v":-0.61},{"w":7796,"v":0.09},{"w":7801,"v":-0.03},{"w":7806,"v":-0.02},{"w":7810,"v":-0.14},{"w":7815,"v":-0.02},{"w":7819,"v":-0.42},{"w":7823,"v":0.02},{"w":7828,"v":0.38},{"w":7834,"v":-0.17},{"w":7838,"v":0.17},{"w":7843,"v":0.22},{"w":7848,"v":0.16},{"w":7853,"v":-0.09},{"w":7858,"v":-0.57},{"w":7864,"v":0.07},{"w":7868,"v":-0.25},{"w":7872,"v":-0.14},{"w":7874,"v":-0.35},{"w":7879,"v":-0.03},{"w":7883,"v":-0.40},{"w":7888,"v":0.25},{"w":7894,"v":-0.17},{"w":7898,"v":-0.20},{"w":7902,"v":0.08},{"w":7907,"v":0.30},{"w":7913,"v":-0.64},{"w":7918,"v":0.17},{"w":7924,"v":-0.30},{"w":7929,"v":-0.90},{"w":7934,"v":-0.08},{"w":7939,"v":-0.02},{"w":7943,"v":-0.21},{"w":7947,"v":-0.61},{"w":7952,"v":-0.14},{"w":7956,"v":0.11},{"w":7961,"v":-0.69},{"w":7968,"v":0.26},{"w":7972,"v":0.12},{"w":7976,"v":0.46},{"w":7981,"v":0.03},{"w":7985,"v":-0.46},{"w":7990,"v":-0.20},{"w":7995,"v":0.24},{"w":7999,"v":0.05},{"w":8003,"v":0.16},{"w":8007,"v":-0.09},{"w":8012,"v":0.28},{"w":8018,"v":-0.05},{"w":8024,"v":-0.41},{"w":8028,"v":-0.08},{"w":8033,"v":-0.08},{"w":8038,"v":-0.17},{"w":8042,"v":-0.21},{"w":8046,"v":-0.13},{"w":8050,"v":0.15},{"w":8055,"v":-0.21},{"w":8061,"v":0.06},{"w":8065,"v":0.15},{"w":8070,"v":-0.05},{"w":8075,"v":0.03},{"w":8080,"v":-0.26},{"w":8085,"v":0.02},{"w":8091,"v":-0.06},{"w":8096,"v":-0.08},{"w":8101,"v":-0.28},{"w":8106,"v":-0.05},{"w":8111,"v":-0.14},{"w":8117,"v":-0.09},{"w":8122,"v":0.28},{"w":8127,"v":0.03},{"w":8132,"v":0.06},{"w":8136,"v":-0.31},{"w":8141,"v":-0.34},{"w":8147,"v":-0.29},{"w":8152,"v":-0.20},{"w":8157,"v":-0.16},{"w":8161,"v":0.02},{"w":8165,"v":0.17},{"w":8170,"v":-0.06},{"w":8174,"v":0.13},{"w":8179,"v":-0.08},{"w":8184,"v":-0.11},{"w":8190,"v":0.08},{"w":8195,"v":-0.01},{"w":8199,"v":-0.21},{"w":8204,"v":0.15},{"w":8209,"v":-0.14},{"w":8214,"v":-0.02},{"w":8220,"v":-0.14},{"w":8225,"v":-0.17},{"w":8230,"v":0.15},{"w":8235,"v":0.36},{"w":8241,"v":-0.16},{"w":8246,"v":0.08},{"w":8251,"v":-0.20},{"w":8256,"v":-0.07},{"w":8261,"v":-0.27},{"w":8267,"v":0.12},{"w":8272,"v":-0.02},{"w":8277,"v":-0.41},{"w":8284,"v":-0.72},{"w":8289,"v":-0.06},{"w":8294,"v":-0.02},{"w":8299,"v":-0.08},{"w":8304,"v":-0.46},{"w":8310,"v":-0.16},{"w":8314,"v":0.05},{"w":8317,"v":0.08},{"w":8321,"v":-0.31},{"w":8327,"v":0.03},{"w":8331,"v":0.10},{"w":8334,"v":-0.36},{"w":8340,"v":-0.08},{"w":8345,"v":-0.39},{"w":8350,"v":-0.11},{"w":8354,"v":-0.08},{"w":8359,"v":-0.20},{"w":8364,"v":-0.30},{"w":8368,"v":0.02},{"w":8374,"v":0.02},{"w":8377,"v":-0.51},{"w":8381,"v":0.08},{"w":8387,"v":-0.08},{"w":8390,"v":-0.22},{"w":8394,"v":-0.16},{"w":8401,"v":-0.06},{"w":8405,"v":0.20},{"w":8409,"v":-0.08},{"w":8415,"v":-0.13},{"w":8421,"v":-0.77},{"w":8426,"v":-0.24},
      {"w":8429,"v":-0.35},{"w":8436,"v":0.06},{"w":8442,"v":-0.20},{"w":8449,"v":-0.60},{"w":8455,"v":0.04},{"w":8460,"v":-0.52},{"w":8466,"v":-0.30},{"w":8471,"v":-0.43},{"w":8476,"v":0.04},{"w":8482,"v":-0.20},{"w":8489,"v":-0.57},{"w":8494,"v":-0.06},{"w":8499,"v":-0.14},{"w":8503,"v":-0.36},{"w":8509,"v":0.13},{"w":8514,"v":-0.14},{"w":8519,"v":-0.33},{"w":8524,"v":-0.13},{"w":8528,"v":-0.20},{"w":8532,"v":-0.08},{"w":8536,"v":-0.33},{"w":8540,"v":-0.14},{"w":8544,"v":0.18},{"w":8548,"v":-0.35},{"w":8553,"v":-0.36},{"w":8558,"v":-0.08},{"w":8562,"v":0.05},{"w":8566,"v":-0.14},{"w":8570,"v":-0.46},{"w":8574,"v":0.09},{"w":8579,"v":-0.20},{"w":8582,"v":0.09},{"w":8585,"v":-0.50},{"w":8591,"v":0.06},{"w":8595,"v":0.09},{"w":8600,"v":0.08},{"w":8604,"v":-0.08},{"w":8608,"v":-0.03},{"w":8612,"v":-0.48},{"w":8615,"v":-0.08},{"w":8619,"v":-0.24},{"w":8623,"v":0.63},{"w":8629,"v":-0.52},{"w":8634,"v":0.39},{"w":8639,"v":-0.14},{"w":8644,"v":-0.52},{"w":8648,"v":0.52},{"w":8652,"v":-0.05},{"w":8656,"v":-0.85},{"w":8661,"v":0.09},{"w":8665,"v":0.91},{"w":8669,"v":0.17},{"w":8673,"v":0.29},{"w":8677,"v":0.22},{"w":8681,"v":0.53},{"w":8686,"v":-0.27},{"w":8691,"v":0.20},{"w":8696,"v":-0.41},{"w":8702,"v":0.05},{"w":8707,"v":0.53},{"w":8712,"v":0.03},{"w":8716,"v":0.06},{"w":8721,"v":0.24},{"w":8726,"v":-0.08},{"w":8732,"v":-0.30},{"w":8735,"v":-0.01},{"w":8741,"v":0.17},{"w":8746,"v":-0.13},{"w":8751,"v":0.08},{"w":8756,"v":0.17},{"w":8760,"v":-0.69},{"w":8764,"v":0.35},{"w":8768,"v":-0.25},{"w":8772,"v":-0.52},{"w":8775,"v":0.36},{"w":8780,"v":-0.26},{"w":8785,"v":0.17},{"w":8789,"v":-0.26},{"w":8793,"v":0.05},{"w":8798,"v":0.13},{"w":8803,"v":0.06},{"w":8807,"v":0.28},{"w":8811,"v":-0.02},{"w":8815,"v":-0.05},{"w":8819,"v":0.03},{"w":8823,"v":0.16},{"w":8827,"v":-0.13},{"w":8831,"v":0.76},{"w":8836,"v":0.24},{"w":8841,"v":0.46},{"w":8846,"v":0.35},{"w":8850,"v":-0.04},{"w":8854,"v":-0.06},{"w":8859,"v":-0.14},{"w":8863,"v":-0.57},{"w":8868,"v":-0.05},{"w":8874,"v":0.36},{"w":8879,"v":-0.63},{"w":8884,"v":0.31},{"w":8888,"v":0.25},{"w":8893,"v":-0.03},{"w":8897,"v":-0.86},{"w":8901,"v":0.25},{"w":8906,"v":0.03},{"w":8911,"v":-0.60},{"w":8917,"v":0.06},{"w":8921,"v":-0.31},{"w":8924,"v":0.19},{"w":8928,"v":0.13},{"w":8934,"v":0.45},{"w":8939,"v":0.19},{"w":8944,"v":-0.17},{"w":8949,"v":-0.31},{"w":8955,"v":0.03},{"w":8960,"v":-0.11},{"w":8964,"v":0.06},{"w":8968,"v":-0.13},{"w":8973,"v":0.06},{"w":8978,"v":-0.14},{"w":8983,"v":0.61},{"w":8987,"v":-0.18},{"w":8991,"v":0.03},{"w":8995,"v":-0.14},{"w":8999,"v":0.52},{"w":9003,"v":-0.20},{"w":9007,"v":0.52},{"w":9011,"v":0.31},{"w":9014,"v":0.17},{"w":9018,"v":0.06},{"w":9022,"v":0.22},{"w":9026,"v":0.19},{"w":9030,"v":0.44},{"w":9034,"v":0.73},{"w":9038,"v":-0.09},{"w":9042,"v":0.26},{"w":9047,"v":-0.13},{"w":9052,"v":-0.29},{"w":9056,"v":-0.16},{"w":9061,"v":-0.24},{"w":9067,"v":-0.13},{"w":9072,"v":-0.39},{"w":9077,"v":-0.06},{"w":9081,"v":0.06},{"w":9085,"v":0.13},{"w":9089,"v":0.34},{"w":9094,"v":-0.09},{"w":9098,"v":0.13},{"w":9102,"v":-0.08},{"w":9106,"v":0.38},{"w":9111,"v":0.14},{"w":9115,"v":0.25},{"w":9119,"v":0.28},{"w":9124,"v":0.05},{"w":9128,"v":0.20},{"w":9132,"v":0.63},{"w":9137,"v":0.14},{"w":9141,"v":-0.19},{"w":9146,"v":0.08},{"w":9154,"v":-0.46},{"w":9159,"v":0.21},{"w":9164,"v":-0.16},{"w":9168,"v":-0.28},{"w":9172,"v":0.13},{"w":9177,"v":-0.16},{"w":9183,"v":0.18},{"w":9187,"v":-0.28},{"w":9192,"v":0.13},{"w":9196,"v":-0.14},{"w":9200,"v":0.02},{"w":9206,"v":-0.43},{"w":9211,"v":-0.08},{"w":9217,"v":0.20},{"w":9221,"v":-0.14},{"w":9226,"v":0.07},{"w":9230,"v":-0.35},{"w":9235,"v":-0.30},{"w":9239,"v":-0.04},{"w":9244,"v":-0.39},{"w":9249,"v":0.09},{"w":9254,"v":-0.24},{"w":9260,"v":-0.28},{"w":9265,"v":0.17},{"w":9270,"v":-0.24},{"w":9275,"v":0.17},{"w":9280,"v":-0.19},{"w":9286,"v":0.00},{"w":9291,"v":0.50},{"w":9296,"v":0.41},{"w":9303,"v":0.49}
    ]
  },
  "layer": [
    {
      "data": {"name": "zero"},
      "mark": {"type": "rule", "color": "#0000ff", "strokeWidth": 5.5},
      "encoding": {
        "y": {
          "field": "v",
          "type": "quantitative",
          "scale": {"domain": [-1.023, 1.432], "nice": false, "zero": false},
          "axis": {"values": [-1, -0.5, 0, 0.5, 1], "format": ".1f"},
          "title": "10⁻¹⁸ erg s⁻¹ cm⁻² Å⁻¹"
        }
      }
    },
    {
      "data": {"name": "err"},
      "mark": {"type": "line", "color": "#008000", "strokeWidth": 1.5, "clip": true},
      "encoding": {
        "x": {
          "field": "w",
          "type": "quantitative",
          "scale": {"domain": [4750, 9300], "nice": false, "zero": false},
          "axis": {"values": [5000, 6000, 7000, 8000, 9000], "format": "d"},
          "title": "Wavelength"
        },
        "y": {
          "field": "v",
          "type": "quantitative",
          "axis": {"values": [-1, -0.5, 0, 0.5, 1], "format": ".1f"},
          "title": "10⁻¹⁸ erg s⁻¹ cm⁻² Å⁻¹"
        }
      }
    },
    {
      "data": {"name": "flux"},
      "mark": {"type": "line", "color": "#000000", "strokeWidth": 4, "clip": true},
      "encoding": {
        "x": {
          "field": "w",
          "type": "quantitative",
          "axis": {"values": [5000, 6000, 7000, 8000, 9000], "format": "d"},
          "title": "Wavelength"
        },
        "y": {
          "field": "v",
          "type": "quantitative",
          "axis": {"values": [-1, -0.5, 0, 0.5, 1], "format": ".1f"},
          "title": "10⁻¹⁸ erg s⁻¹ cm⁻² Å⁻¹"
        }
      }
    }
  ],
  "config": {
    "view": {"stroke": "black", "strokeWidth": 2.7},
    "axis": {
      "grid": false,
      "domain": false,
      "ticks": true,
      "tickColor": "black",
      "tickWidth": 2.7,
      "tickSize": 14,
      "labelColor": "black",
      "labelFont": "DejaVu Sans",
      "titleFont": "DejaVu Sans",
      "titleColor": "black",
      "titleFontWeight": "normal"
    },
    "axisX": {
      "labelFontSize": 29,
      "labelPadding": 12,
      "titleFontSize": 30,
      "titlePadding": 6
    },
    "axisY": {
      "labelFontSize": 37,
      "labelPadding": 17,
      "titleFontSize": 46,
      "titlePadding": 18
    }
  }
}
